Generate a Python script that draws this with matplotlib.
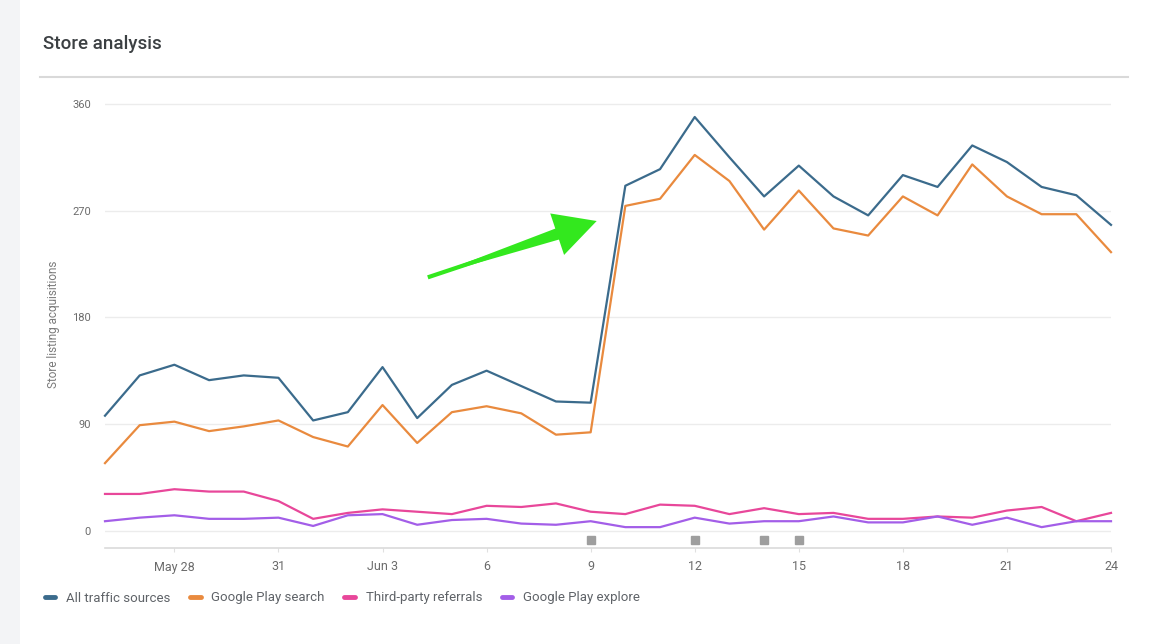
import matplotlib
matplotlib.use('Agg')
import matplotlib.pyplot as plt
import matplotlib.dates as mdates
from matplotlib.patches import FancyArrowPatch, Rectangle
from matplotlib.lines import Line2D
import pandas as pd

plt.rcParams['font.family'] = ['Roboto', 'DejaVu Sans']

# data, May 26 .. Jun 24
dates = pd.date_range('2019-05-26', periods=30, freq='D')
all_traffic = [97, 131, 140, 127, 131, 129, 93, 100, 138, 95,
               123, 135, 122, 109, 108, 291, 305, 349, 315, 282,
               308, 282, 266, 300, 290, 325, 311, 290, 283, 258]
play_search = [57, 89, 92, 84, 88, 93, 79, 71, 106, 74,
               100, 105, 99, 81, 83, 274, 280, 317, 295, 254,
               287, 255, 249, 282, 266, 309, 282, 267, 267, 235]
third_party = [31, 31, 35, 33, 33, 25, 10, 15, 18, 16,
               14, 21, 20, 23, 16, 14, 22, 21, 14, 19,
               14, 15, 10, 10, 12, 11, 17, 20, 8, 15]
play_explore = [8, 11, 13, 10, 10, 11, 4, 13, 14, 5,
                9, 10, 6, 5, 8, 3, 3, 11, 6, 8,
                8, 12, 7, 7, 12, 5, 11, 3, 8, 8]
series_names = ['All traffic sources', 'Google Play search',
                'Third-party referrals', 'Google Play explore']
colors = ['#3b6b8c', '#e98a3e', '#e8479a', '#a35ee8']

event_dates = pd.to_datetime(['2019-06-09', '2019-06-12', '2019-06-14', '2019-06-15'])
tick_dates = pd.to_datetime(['2019-05-28', '2019-05-31', '2019-06-03', '2019-06-06',
                             '2019-06-09', '2019-06-12', '2019-06-15', '2019-06-18',
                             '2019-06-21', '2019-06-24'])
tick_labels = ['May 28', '31', 'Jun 3', '6', '9', '12', '15', '18', '21', '24']
y_ticks = [0, 90, 180, 270, 360]

W, H = 1166, 644
fig = plt.figure(figsize=(W / 100, H / 100), dpi=100)
fig.patch.set_facecolor('white')

# grey page strip on the left and header
fig.add_artist(Rectangle((0, 0), 20 / W, 1, transform=fig.transFigure,
                         facecolor='#f3f4f6', edgecolor='none', zorder=0))
fig.text(43 / W, 1 - 44 / H, 'Store analysis', fontsize=13.5, weight='medium',
         color='#3c4043', va='center', ha='left')
fig.add_artist(Line2D([40 / W, 1128 / W], [1 - 77 / H, 1 - 77 / H],
                      transform=fig.transFigure, color='#d9d9d9', lw=1.5))

ax = fig.add_axes([105 / W, (H - 548) / H, 1006 / W, 446.4 / H])
for vals, name, c in zip([all_traffic, play_search, third_party, play_explore],
                         series_names, colors):
    ax.plot(dates, vals, color=c, lw=1.6, label=name, clip_on=False, zorder=3)

# event markers under the zero line
ax.plot(event_dates, [-8] * len(event_dates), 's', color='#9e9e9e',
        markersize=5.5, clip_on=False, zorder=3)

ax.set_xlim(dates[0], dates[-1])
ax.set_ylim(-14.6, 362)
ax.set_yticks(y_ticks)
ax.set_yticklabels([str(v) for v in y_ticks])
ax.set_xticks(tick_dates)
ax.set_xticklabels(tick_labels)
ax.grid(axis='y', color='#ececec', lw=1)
ax.set_axisbelow(True)
for s in ['top', 'right', 'left']:
    ax.spines[s].set_visible(False)
ax.spines['bottom'].set_color('#dadada')
ax.spines['bottom'].set_linewidth(1.2)
ax.tick_params(axis='y', length=0, pad=10, labelsize=8, labelcolor='#6b6b6b')
ax.tick_params(axis='x', length=3, color='#e0e0e0', pad=6, labelsize=9,
               labelcolor='#6b6b6b')
ax.set_ylabel('Store listing acquisitions', fontsize=8.5, color='#7a7a7a')
ax.yaxis.set_label_coords(-45 / 1006, 0.5)

# green arrow pointing at the jump: tapered shaft + head
tail = (mdates.date2num(pd.Timestamp('2019-06-04 05:30')), 213)
tip = (mdates.date2num(pd.Timestamp('2019-06-09 06:00')), 262)
neck = (mdates.date2num(pd.Timestamp('2019-06-08 10:00')), 254)
green = '#33e81e'
head = FancyArrowPatch(tail, tip,
                       arrowstyle='simple,head_length=1.0,head_width=1.05,tail_width=0.1',
                       mutation_scale=30, color=green, lw=0, zorder=5)
shaft = FancyArrowPatch(neck, tail, arrowstyle='wedge,tail_width=0.3,shrink_factor=0.5',
                        mutation_scale=30, color=green, lw=0, zorder=5)
ax.add_patch(head)
ax.add_patch(shaft)

fig.legend(loc='center left', bbox_to_anchor=(33 / W, 1 - 598 / H), ncol=4,
           frameon=False, fontsize=9.5, handlelength=0.8, handletextpad=0.8,
           columnspacing=1.5, labelcolor='#5f6368')
leg = fig.legends[0]
for line in leg.get_lines():
    line.set_linewidth(3.5)
    line.set_solid_capstyle('round')

fig.savefig('out.png', dpi=100, facecolor='white')
